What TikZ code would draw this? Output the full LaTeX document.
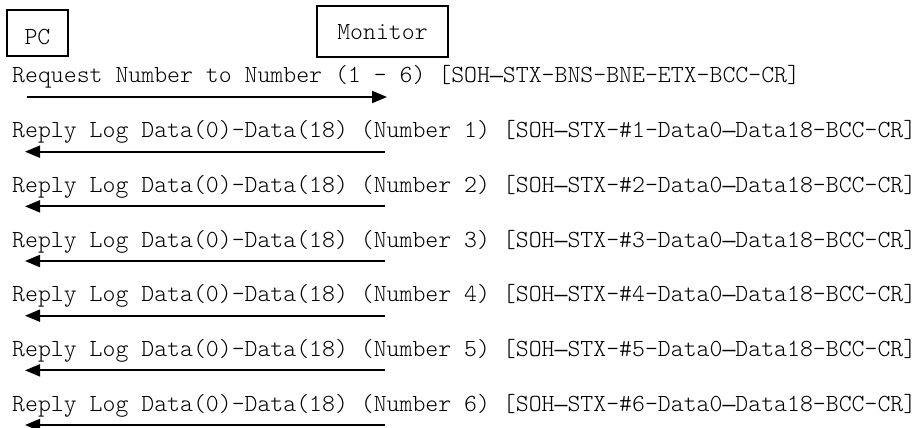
\documentclass[tikz,border=0pt]{standalone}
\usepackage{fontspec}
\setmonofont{Latin Modern Mono Light}
\newfontfamily\dashfont[Scale=0.875]{Liberation Mono}
\newcommand\myemd{{\dashfont —}}
\usetikzlibrary{arrows.meta}
\begin{document}
\begin{tikzpicture}[x=1pt,y=-1pt,
  every node/.style={font=\ttfamily\fontsize{24.6}{24.6}\selectfont, inner sep=0pt},
  actor/.style={draw, line width=1.6pt, anchor=base},
  msg/.style={anchor=base west},
  arr/.style={line width=2pt, -{Triangle[length=15pt,width=12pt]}}]
\useasboundingbox (0,0) rectangle (922,428);
% actors
\node[actor, minimum width=61pt, text height=35pt, text depth=11pt] (pc) at (37.5,45) {PC};
\node[actor, minimum width=131pt, text height=34pt, text depth=17pt] (mon) at (382.5,40) {Monitor};
% request
\node[msg] (req) at (12,83) {Request Number to Number (1 - 6) [SOH\myemd STX-BNS-BNE-ETX-BCC-CR]};
\coordinate (reqa) at (27,97);
\coordinate (reqb) at (387,97);
\draw[arr] (reqa) -- (reqb);
% replies
\foreach \k in {1,...,6}{
  \pgfmathsetmacro{\yy}{97+54.67*\k}
  \node[msg] (rep\k) at (12,\yy-14) {Reply Log Data(0)-Data(18) (Number \k) [SOH\myemd STX-\#\k-Data0\myemd Data18-BCC-CR]};
  \coordinate (repa\k) at (385,\yy);
  \coordinate (repb\k) at (25,\yy);
  \draw[arr] (repa\k) -- (repb\k);
}
\end{tikzpicture}
\end{document}
